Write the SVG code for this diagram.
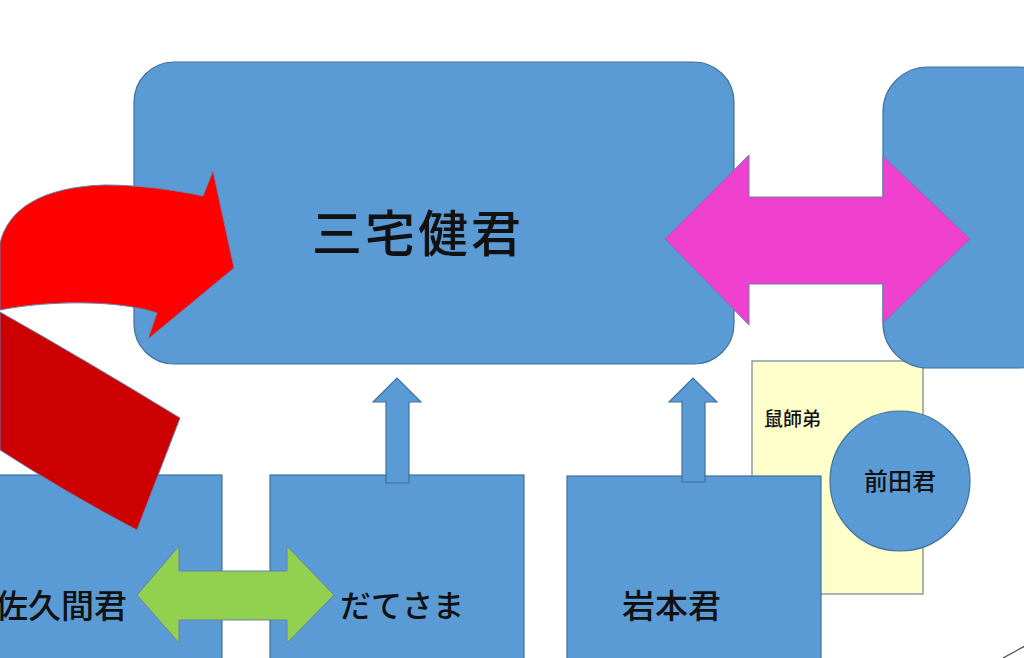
<svg xmlns="http://www.w3.org/2000/svg" width="1024" height="658" viewBox="0 0 1024 658">
<style>
.box{fill:#5B9BD5;stroke:#41719C;stroke-width:1.2}
.arr{stroke:#6A7FA8;stroke-width:1}
.t{font-family:"Noto Sans CJK JP","Noto Sans CJK SC",sans-serif;fill:#111;font-weight:500}
</style>
<rect width="1024" height="658" fill="#fff"/>
<g id="node-sakuma"><rect class="box" x="-2" y="475" width="224" height="190"/><text class="t" x="-5" y="618" font-size="33">佐久間君</text></g>
<g id="node-date"><rect class="box" x="270" y="475" width="254" height="190"/><text class="t" x="340" y="617" font-size="31">だてさま</text></g>
<g id="node-nezumi"><rect x="752" y="361" width="171" height="233" fill="#FFFFCC" stroke="#6F8490" stroke-width="1.2"/><text class="t" x="764" y="426" font-size="19" fill="#333" font-weight="400">鼠師弟</text></g>
<g id="node-iwamoto"><rect class="box" x="567" y="476" width="254" height="190"/><text class="t" x="622" y="618" font-size="33">岩本君</text></g>
<g id="node-maeda"><circle class="box" cx="900" cy="481" r="70"/><text class="t" x="900" y="490" font-size="24" text-anchor="middle">前田君</text></g>
<g id="node-miyake"><rect class="box" x="134" y="62" width="600" height="302" rx="40"/><text class="t" x="312" y="252" font-size="50" letter-spacing="3">三宅健君</text></g>
<g id="node-right"><rect class="box" x="883" y="67" width="180" height="301" rx="45"/></g>
<g id="connectors">
<path class="arr" d="M0,312 Q85,360 180,418 L137,530 Q70,495 0,450 Z" fill="#CC0000"/>
<path class="arr" d="M0,243 C8,210 40,187 105,185 C140,185 175,190 203,196 L213,171 L234,268 L148,339 L157,313 C120,300 50,300 0,310 Z" fill="#FF0000"/>
<path class="arr" d="M665,239 L749,155 L749,197 L883,197 L883,156 L970,239 L883,323 L883,284 L749,284 L749,325 Z" fill="#F040D0"/>
<path class="arr" d="M137,595 L179,546 L179,571 L287,571 L287,546 L334,595 L287,643 L287,620 L179,620 L179,643 Z" fill="#92D050"/>
<path class="box" d="M386,483 L386,402 L373,402 L397,378 L421,402 L409,402 L409,483 Z"/>
<path class="box" d="M682,482 L682,402 L669,402 L693,378 L717,402 L705,402 L705,482 Z"/>
<line x1="1003" y1="658" x2="1025" y2="646" stroke="#444" stroke-width="1.2"/>
</g>
</svg>
